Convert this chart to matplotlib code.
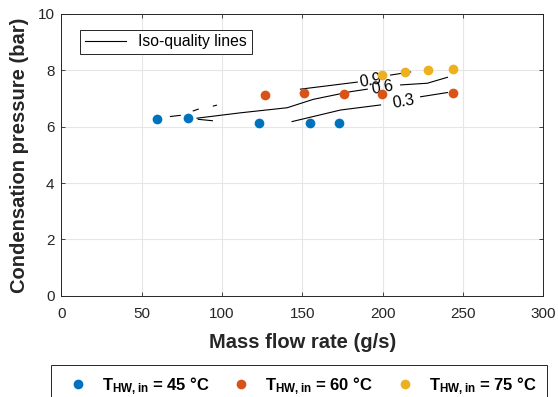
import matplotlib
matplotlib.use('Agg')
import matplotlib.pyplot as plt
from matplotlib.lines import Line2D
import numpy as np

nan = np.nan

# measured operating points, one series per hot water inlet temperature
flow_45 = [59.3, 78.6, 122.9, 154.7, 172.8]
pres_45 = [6.28, 6.31, 6.14, 6.14, 6.14]
flow_60 = [126.6, 151.0, 176.0, 199.6, 243.9]
pres_60 = [7.13, 7.18, 7.16, 7.15, 7.2]
flow_75 = [199.6, 214.0, 228.3, 243.9]
pres_75 = [7.84, 7.94, 8.0, 8.03]

# iso-quality curves (nan = gap left for the inline label)
iso_09_flow = [148.8, 184.2, nan, 204.9, 217.4]
iso_09_pres = [7.33, 7.58, nan, 7.83, 7.94]
iso_06_flow = [84.4, 111.4, 140.5, 156.9, 180.0, 190.4, nan, 211.2, 227.8, 240.3]
iso_06_pres = [6.30, 6.49, 6.67, 6.97, 7.24, 7.33, nan, 7.48, 7.54, 7.75]
iso_03_flow = [143.6, 173.8, 198.7, nan, 223.6, 240.3]
iso_03_pres = [6.18, 6.59, 6.77, nan, 7.06, 7.21]
# short pieces where the curves run together at low flow
iso_stub_flow = [67.9, 74.0, nan, 82.1, 85.2, nan, 94.6, 96.5, nan, 85.2, 94.0]
iso_stub_pres = [6.36, 6.40, nan, 6.56, 6.62, nan, 6.73, 6.76, nan, 6.26, 6.21]

iso_levels = ['0.9', '0.6', '0.3']
iso_label_flow = [192.4, 200.0, 213.0]
iso_label_pres = [7.63, 7.37, 6.89]

temps = [45, 60, 75]
colors = ['#0072BD', '#D95319', '#EDB120']

plt.rcParams['font.family'] = ['Liberation Sans', 'DejaVu Sans']
plt.rcParams['mathtext.fontset'] = 'custom'
plt.rcParams['mathtext.rm'] = 'Liberation Sans:bold'
plt.rcParams['mathtext.bf'] = 'Liberation Sans:bold'
plt.rcParams['mathtext.it'] = 'Liberation Sans:bold'

fig = plt.figure(figsize=(5.58, 3.97), dpi=100)
ax = fig.add_axes([0.110, 0.255, 0.8637, 0.710])

lw = 0.8
ax.plot(iso_09_flow, iso_09_pres, color='black', lw=lw, zorder=2)
ax.plot(iso_06_flow, iso_06_pres, color='black', lw=lw, zorder=2)
ax.plot(iso_03_flow, iso_03_pres, color='black', lw=lw, zorder=2)
ax.plot(iso_stub_flow, iso_stub_pres, color='black', lw=lw, zorder=2)

for lab, fx, py in zip(iso_levels, iso_label_flow, iso_label_pres):
    ax.text(fx, py, lab, fontsize=11.5, rotation=10, ha='center', va='center', zorder=3)

series = [(flow_45, pres_45), (flow_60, pres_60), (flow_75, pres_75)]
for (fx, py), c in zip(series, colors):
    ax.plot(fx, py, 'o', color=c, markersize=7, markeredgewidth=0, zorder=4)

ax.set_xlim(0, 300)
ax.set_ylim(0, 10)
ax.set_xticks(np.arange(0, 301, 50))
ax.set_yticks(np.arange(0, 11, 2))
ax.grid(True, color='#e6e6e6', lw=0.8)
ax.set_axisbelow(True)
ax.tick_params(direction='in', length=3, width=0.6, labelsize=11, colors='#262626',
               top=True, right=True)
ax.tick_params(axis='x', pad=8)
ax.tick_params(axis='y', pad=5)
for s in ax.spines.values():
    s.set_linewidth(0.7)
    s.set_color('#262626')

ax.set_xlabel('Mass flow rate (g/s)', fontsize=14.5, fontweight='bold', color='#262626', labelpad=9)
ax.set_ylabel('Condensation pressure (bar)', fontsize=14.5, fontweight='bold', color='#262626', labelpad=6)

iso_handle = Line2D([], [], color='black', lw=lw)
leg1 = ax.legend([iso_handle], ['Iso-quality lines'], loc='upper left',
                 bbox_to_anchor=(0.023, 0.972), fontsize=11.3, fancybox=False,
                 edgecolor='#262626', framealpha=1, handlelength=2.6, borderpad=0.3)
leg1.get_frame().set_linewidth(0.7)

dot_handles = [Line2D([], [], ls='', marker='o', color=c, markersize=7, markeredgewidth=0)
               for c in colors]
dot_labels = [r'$\mathregular{T_{HW,in}}$ = %d °C' % t for t in temps]
leg2 = fig.legend(dot_handles, dot_labels, loc='upper center', ncol=3,
                  bbox_to_anchor=(0.536, 0.0806), borderaxespad=0, fancybox=False,
                  edgecolor='#262626', framealpha=1, borderpad=0.6, columnspacing=0.88,
                  handletextpad=0.44, prop={'weight': 'bold', 'size': 12})
leg2.get_frame().set_linewidth(0.7)

fig.savefig('out.png', dpi=100)
